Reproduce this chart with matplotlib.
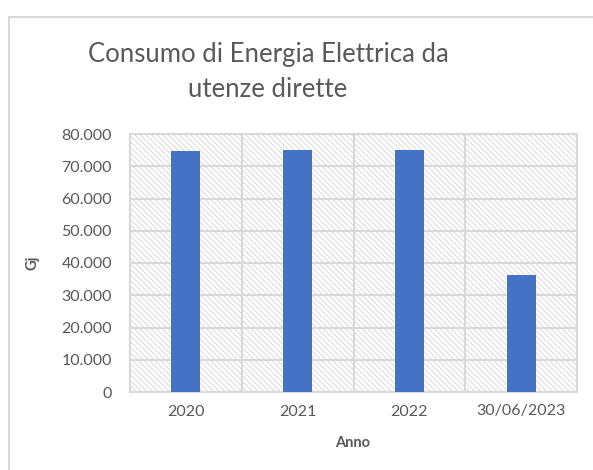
import matplotlib
matplotlib.use("Agg")
import matplotlib.pyplot as plt
from matplotlib.patches import Rectangle
from matplotlib.ticker import FuncFormatter

# dati (Gj)
anni = ["2020", "2021", "2022", "30/06/2023"]
consumi = [74600, 74900, 75000, 36200]
y_ticks = [0, 10000, 20000, 30000, 40000, 50000, 60000, 70000, 80000]

plt.rcParams['font.family'] = ['Lato', 'DejaVu Sans']
plt.rcParams['hatch.linewidth'] = 0.6
grigio = '#595959'
linee = '#D9D9D9'

fig = plt.figure(figsize=(5.93, 4.70), dpi=100)
ax = fig.add_axes([130 / 593, 1 - 392 / 470, 447 / 593, 258 / 470])

# sfondo tratteggiato dell'area del grafico
sfondo = Rectangle((0, 0), 1, 1, transform=ax.transAxes, facecolor='white',
                   edgecolor='#D4D4D4', hatch='\\\\\\\\\\\\', linewidth=0, zorder=0)
ax.add_patch(sfondo)

x = range(len(anni))
ax.bar(x, consumi, width=0.26, color='#4472C4', zorder=3)

ax.set_xlim(-0.5, len(anni) - 0.5)
ax.set_ylim(0, 80000)
ax.set_yticks(y_ticks)
ax.yaxis.set_major_formatter(FuncFormatter(lambda v, p: f"{int(v):,}".replace(",", ".")))
ax.set_xticks(list(x))
ax.set_xticklabels(anni)

# griglia: orizzontale sui tick, verticale tra le categorie
for v in y_ticks:
    ax.axhline(v, color=linee, lw=1.5, zorder=1)
for b in [0.5, 1.5, 2.5]:
    ax.axvline(b, color=linee, lw=1.5, zorder=1)
for s in ax.spines.values():
    s.set_color(linee)
    s.set_linewidth(1.5)

ax.tick_params(axis='both', length=0, colors=grigio, labelsize=11.5)
ax.tick_params(axis='y', pad=13)
ax.tick_params(axis='x', pad=9)

fig.text(268 / 593, 1 - 72 / 470, "Consumo di Energia Elettrica da\nutenze dirette",
         ha='center', va='center', fontsize=18.5, color=grigio, linespacing=1.5)
fig.text(33 / 593, 1 - 263 / 470, "Gj", rotation=90, ha='center', va='center',
         fontsize=10.5, fontweight='bold', color=grigio)
fig.text(353 / 593, 1 - 443 / 470, "Anno", ha='center', va='center',
         fontsize=10.5, fontweight='bold', color=grigio)

# cornice esterna del grafico
fig.patches.append(Rectangle((8.5 / 593, -0.1), 1, 1.1 - 16.5 / 470, transform=fig.transFigure,
                             fill=False, edgecolor=linee, linewidth=1.5))

fig.savefig("out.png", dpi=100)
